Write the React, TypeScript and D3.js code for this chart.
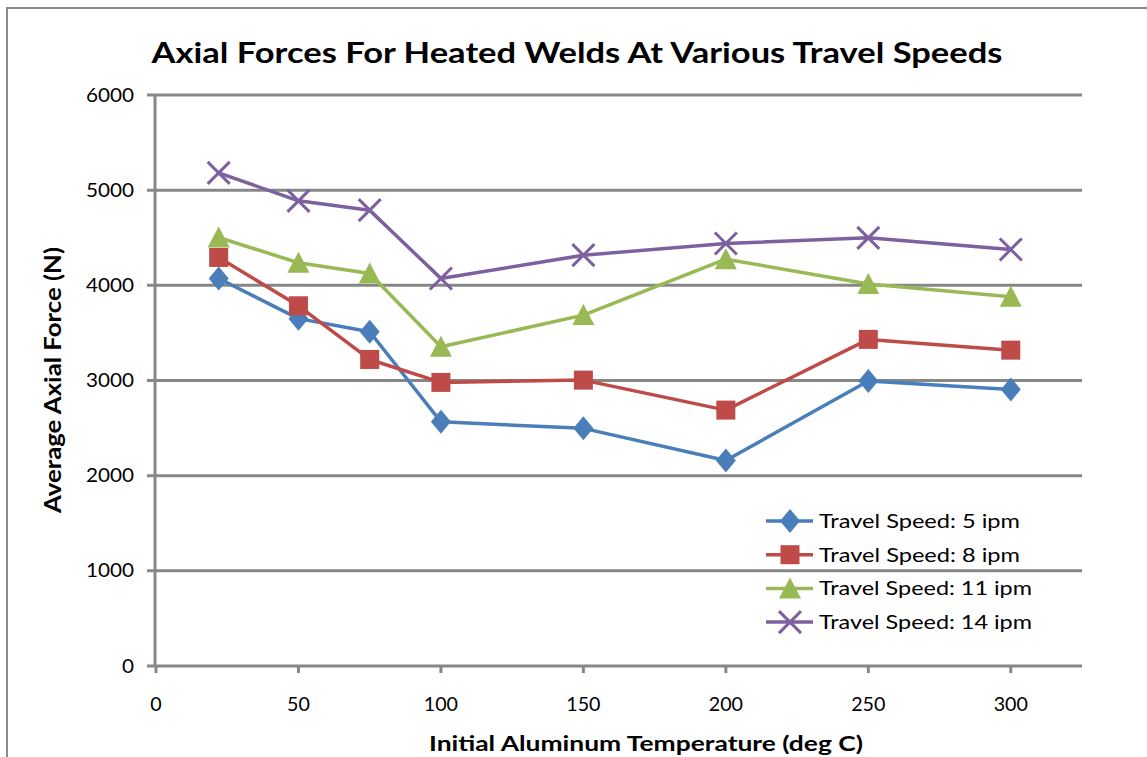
import React from "react";
import * as d3 from "d3";

const temps = [22, 50, 75, 100, 150, 200, 250, 300];
const speed5 = [4072, 3650, 3512, 2566, 2497, 2160, 2994, 2906];
const speed8 = [4293, 3785, 3221, 2980, 3004, 2689, 3432, 3319];
const speed11 = [4503, 4237, 4125, 3354, 3687, 4275, 4013, 3880];
const speed14 = [5182, 4888, 4790, 4072, 4317, 4440, 4499, 4377];
const seriesNames = [
  "Travel Speed: 5 ipm",
  "Travel Speed: 8 ipm",
  "Travel Speed: 11 ipm",
  "Travel Speed: 14 ipm",
];
const xTicks = [0, 50, 100, 150, 200, 250, 300];
const yTicks = [0, 1000, 2000, 3000, 4000, 5000, 6000];

const colors = ["#4A7EBB", "#BE4B48", "#98B954", "#7D60A0"];
const markers = ["diamond", "square", "triangle", "x"];
const FONT = "Lato, 'Open Sans', sans-serif";
const GRID = "#878787";

function Marker({ kind, cx, cy, color }: { kind: string; cx: number; cy: number; color: string }) {
  if (kind === "diamond") {
    const p = `M${cx},${cy - 12}L${cx + 10},${cy}L${cx},${cy + 12}L${cx - 10},${cy}Z`;
    return <path d={p} fill={color} />;
  }
  if (kind === "square") {
    return <rect x={cx - 9.5} y={cy - 9.5} width={19} height={19} fill={color} />;
  }
  if (kind === "triangle") {
    const p = `M${cx},${cy - 11}L${cx + 11},${cy + 10}L${cx - 11},${cy + 10}Z`;
    return <path d={p} fill={color} />;
  }
  const s = 11;
  return (
    <path
      d={`M${cx - s},${cy - s}L${cx + s},${cy + s}M${cx - s},${cy + s}L${cx + s},${cy - s}`}
      stroke={color}
      strokeWidth={3}
      fill="none"
    />
  );
}

const digitW = 12;

export default function App() {
  const x = d3.scaleLinear().domain([0, 325]).range([156, 1082]);
  const y = d3.scaleLinear().domain([0, 6000]).range([666, 95]);
  const all = [speed5, speed8, speed11, speed14];
  const line = d3
    .line<number>()
    .x((_, i) => x(temps[i]))
    .y((d) => y(d));

  return (
    <svg
      width={1147}
      height={757}
      style={{ position: "absolute", left: 0, top: 0, display: "block", background: "#fff" }}
    >
      <rect x={7} y={8} width={1200} height={800} fill="#fff" stroke="#8a8a8a" strokeWidth={2} />
      <text
        x={577}
        y={63}
        textAnchor="middle"
        fontFamily={FONT}
        fontWeight="bold"
        fontSize={29}
        fill="#000"
        textLength={851}
        lengthAdjust="spacingAndGlyphs"
      >
        Axial Forces For Heated Welds At Various Travel Speeds
      </text>

      {yTicks.map((t) => (
        <g key={"g" + t}>
          <line x1={147} x2={1082} y1={y(t)} y2={y(t)} stroke={GRID} strokeWidth={3} />
          <text
            x={134}
            y={y(t)}
            dy="0.35em"
            textAnchor="end"
            fontFamily={FONT}
            fontSize={19}
            fill="#000"
            textLength={String(t).length * digitW}
            lengthAdjust="spacingAndGlyphs"
          >
            {t}
          </text>
        </g>
      ))}
      <line x1={155} x2={155} y1={94} y2={667} stroke={GRID} strokeWidth={3} />
      {xTicks.map((t) => (
        <g key={"x" + t}>
          <line x1={x(t)} x2={x(t)} y1={666} y2={673} stroke={GRID} strokeWidth={3} />
          <text
            x={x(t)}
            y={704}
            dy="0.35em"
            textAnchor="middle"
            fontFamily={FONT}
            fontSize={19}
            fill="#000"
            textLength={String(t).length * 11.4}
            lengthAdjust="spacingAndGlyphs"
          >
            {t}
          </text>
        </g>
      ))}

      <text
        x={646}
        y={751}
        textAnchor="middle"
        fontFamily={FONT}
        fontWeight="bold"
        fontSize={21}
        fill="#000"
        textLength={434}
        lengthAdjust="spacingAndGlyphs"
      >
        Initial Aluminum Temperature (deg C)
      </text>
      <text
        transform="translate(61,380) rotate(-90)"
        textAnchor="middle"
        fontFamily={FONT}
        fontWeight="bold"
        fontSize={22}
        fill="#000"
        textLength={266}
        lengthAdjust="spacingAndGlyphs"
      >
        Average Axial Force (N)
      </text>

      {all.map((vals, si) => (
        <g key={"s" + si}>
          <path d={line(vals) || ""} fill="none" stroke={colors[si]} strokeWidth={3.5} strokeLinejoin="round" />
          {vals.map((v, i) => (
            <Marker key={i} kind={markers[si]} cx={x(temps[i])} cy={y(v)} color={colors[si]} />
          ))}
        </g>
      ))}

      {seriesNames.map((n, i) => {
        const cy = 521 + i * 33.7;
        return (
          <g key={"l" + i}>
            <line x1={766} x2={813} y1={cy} y2={cy} stroke={colors[i]} strokeWidth={3.5} />
            <Marker kind={markers[i]} cx={790} cy={cy} color={colors[i]} />
            <text
              x={819}
              y={cy}
              dy="0.35em"
              fontFamily={FONT}
              fontSize={20}
              fill="#000"
              textLength={i < 2 ? 201 : 213}
              lengthAdjust="spacingAndGlyphs"
            >
              {n}
            </text>
          </g>
        );
      })}
    </svg>
  );
}
